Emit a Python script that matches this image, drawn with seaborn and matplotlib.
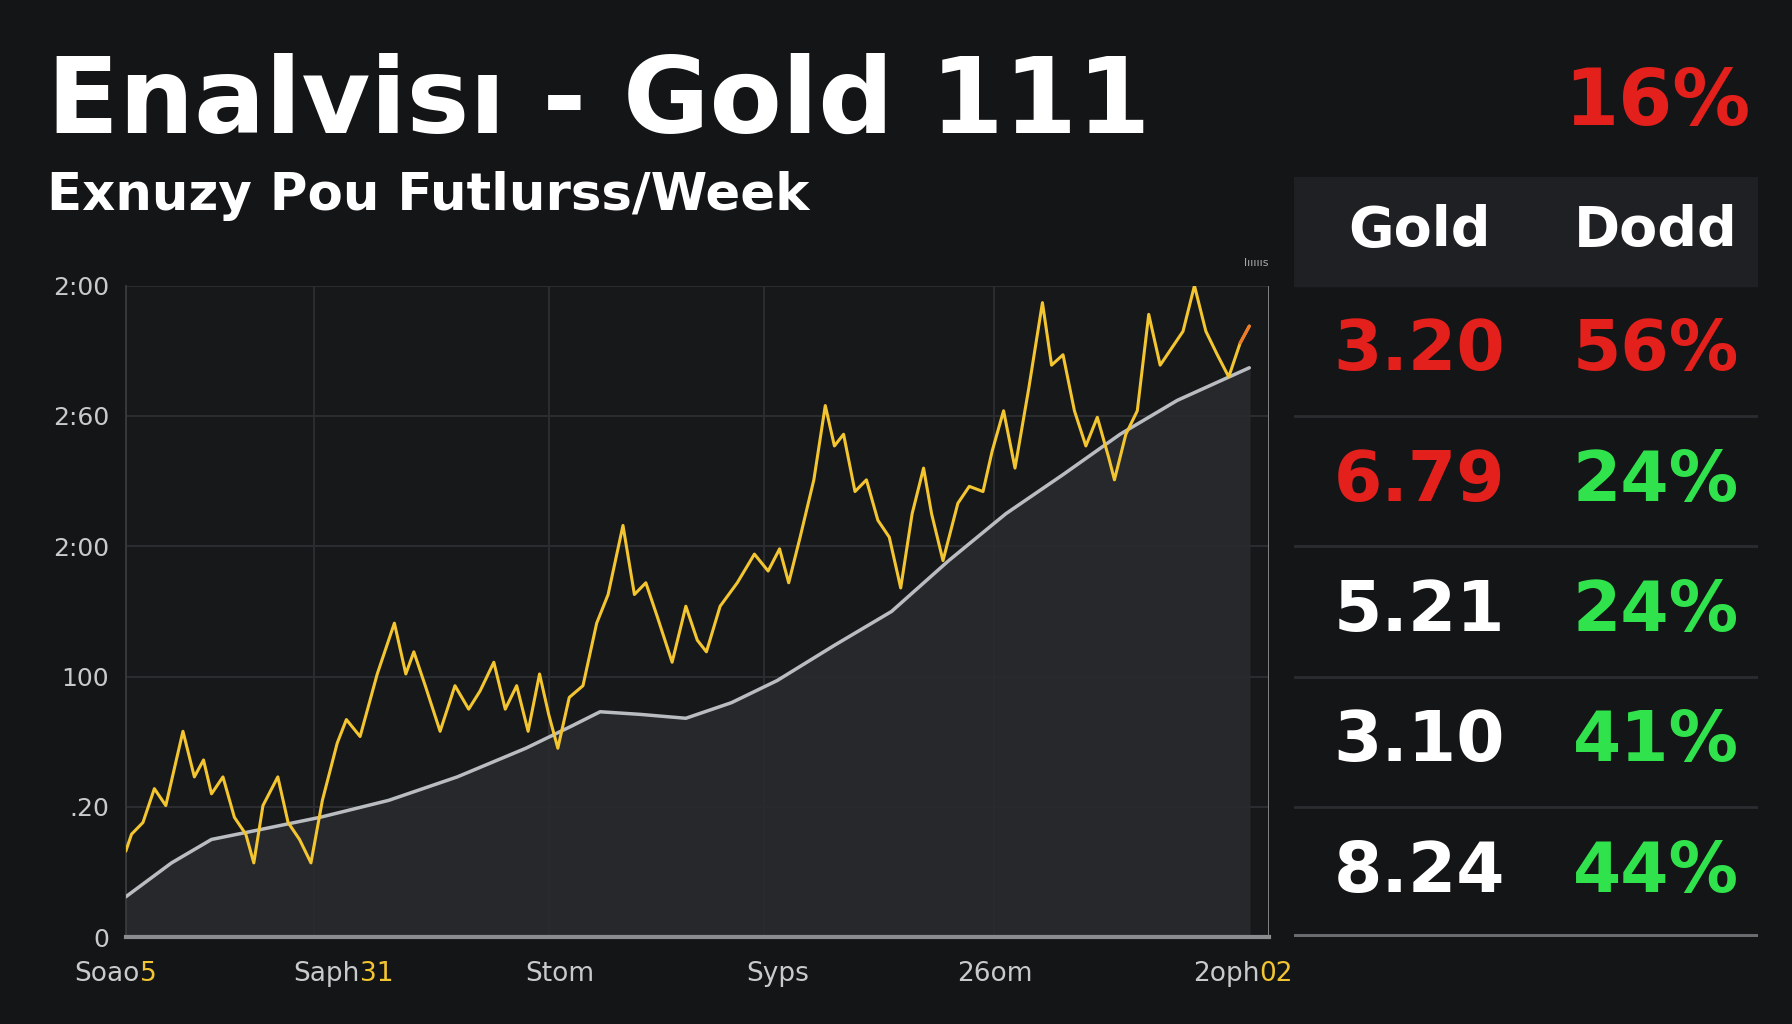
import matplotlib
matplotlib.use("Agg")
import matplotlib.pyplot as plt
import seaborn as sns
import pandas as pd

sns.set_theme(style="dark")
plt.rcParams['font.family'] = ['DejaVu Sans']

gold_x = [0,5,15,25,35,50,60,68,75,85,95,105,112,120,133,142,152,162,172,185,193,205,220,235,245,252,262,275,288,300,310,322,332,342,352,362,370,378,388,400,412,422,435,445,455,465,478,490,500,508,520,535,550,562,572,580,590,602,612,620,628,638,648,658,668,678,688,698,705,715,728,738,750,758,768,778,790,802,810,820,830,840,850,860,865,875,885,895,905,915,925,935,945,955,965,975,983]
gold_y = [0.66,0.79,0.88,1.14,1.01,1.58,1.23,1.36,1.10,1.23,0.92,0.79,0.57,1.01,1.23,0.88,0.75,0.57,1.05,1.49,1.67,1.54,2.02,2.41,2.02,2.19,1.93,1.58,1.93,1.75,1.89,2.11,1.75,1.93,1.58,2.02,1.71,1.45,1.84,1.93,2.41,2.63,3.16,2.63,2.72,2.46,2.11,2.54,2.28,2.19,2.54,2.72,2.94,2.81,2.98,2.72,3.07,3.51,4.08,3.77,3.86,3.42,3.51,3.20,3.07,2.68,3.25,3.60,3.25,2.89,3.33,3.46,3.42,3.73,4.04,3.60,4.21,4.87,4.39,4.47,4.04,3.77,3.99,3.68,3.51,3.86,4.04,4.78,4.39,4.52,4.65,5.00,4.65,4.47,4.30,4.56,4.69]
trend_x = [0,40,75,120,170,230,290,350,390,415,450,490,530,570,620,670,720,770,820,870,920,983]
trend_y = [0.31,0.57,0.75,0.83,0.92,1.05,1.23,1.45,1.62,1.73,1.71,1.68,1.80,1.97,2.24,2.50,2.89,3.25,3.55,3.86,4.12,4.37]
ytick_labels = ["0", ".20", "100", "2:00", "2:60", "2:00"]
xtick_prefix = ["Soao", "Saph", "Stom", "Syps", "26om", "2oph"]
xtick_suffix = ["5", "31", "", "", "", "02"]
xtick_pos = [12, 205, 380, 570, 760, 992]
vgrid = [0, 165, 370, 558, 760]
col_headers = ["Gold", "Dodd"]
col_gold = ["3.20", "6.79", "5.21", "3.10", "8.24"]
col_dodd = ["56%", "24%", "24%", "41%", "44%"]
gold_colors = ["red", "red", "white", "white", "white"]
dodd_colors = ["red", "green", "green", "green", "green"]

BG = "#141517"
RED = "#e3201b"
GREEN = "#30e34c"
cmap = {"red": RED, "green": GREEN, "white": "#ffffff"}

fig = plt.figure(figsize=(17.92, 10.24), dpi=100, facecolor=BG)
ax = fig.add_axes([0.0702, 0.0848, 0.6378, 0.6362])
ax.set_facecolor("#17181a")

gdf = pd.DataFrame({"x": gold_x, "y": gold_y})
tdf = pd.DataFrame({"x": trend_x, "y": trend_y})
ax.fill_between(trend_x, trend_y, 0, color="#292a2d", alpha=0.9, zorder=1)
sns.lineplot(data=tdf, x="x", y="y", ax=ax, color="#b9bcc0", lw=2.5, zorder=3)
sns.lineplot(data=gdf, x="x", y="y", ax=ax, color="#f2c531", lw=2.2, zorder=4)
ax.plot(gold_x[-2:], gold_y[-2:], color="#f07a2a", lw=2.2, zorder=5)

ax.set_xlim(0, 1000)
ax.set_ylim(0, 5)
ax.set_yticks(range(6))
ax.set_yticklabels(ytick_labels, color="#c8cacc", fontsize=18)
ax.set_xticks([])
ax.set_xlabel(""); ax.set_ylabel("")
for y in range(1, 6):
    ax.axhline(y, color="#2a2c2f", lw=1.5, zorder=0)
for x in vgrid:
    ax.axvline(x, color="#2a2c2f", lw=1.5, zorder=0)
for s in ["top", "right"]:
    ax.spines[s].set_visible(False)
ax.spines["left"].set_color("#3a3c40")
ax.spines["bottom"].set_color("#8a8c90"); ax.spines["bottom"].set_linewidth(3)
ax.axvline(1000, color="#8a8c90", lw=2)
ax.tick_params(axis="y", length=0, pad=12)
for p, pre, suf in zip(xtick_pos, xtick_prefix, xtick_suffix):
    ax.text(p, -0.18, pre, ha="right" if suf else "center", va="top", color="#c8cacc", fontsize=19, clip_on=False)
    if suf:
        ax.text(p, -0.18, suf, ha="left", va="top", color="#f2c531", fontsize=19, clip_on=False)
ax.text(1000, 5.15, "lıııııs", ha="right", fontsize=8, color="#aaaaaa")

fig.text(0.026, 0.87, "Enalvisı - Gold 111", fontsize=76, fontweight="bold", color="white")
fig.text(0.026, 0.795, "Exnuzy Pou Futlurss/Week", fontsize=37, color="white", fontweight="semibold")
fig.text(0.977, 0.878, "16%", fontsize=56, fontweight="bold", color=RED, ha="right")

tab = fig.add_axes([0.722, 0.0848, 0.259, 0.742])
tab.set_xlim(0, 1); tab.set_ylim(0, 5.83)
tab.set_facecolor("#131416")
tab.axis("off")
tab.add_patch(plt.Rectangle((0, 5), 1, 0.83, color="#1f2023"))
tab.text(0.27, 5.42, col_headers[0], ha="center", va="center", fontsize=40, fontweight="bold", color="white")
tab.text(0.78, 5.42, col_headers[1], ha="center", va="center", fontsize=40, fontweight="bold", color="white")
for i in range(5):
    yc = 4.5 - i
    tab.text(0.27, yc, col_gold[i], ha="center", va="center", fontsize=50, fontweight="bold", color=cmap[gold_colors[i]])
    tab.text(0.78, yc, col_dodd[i], ha="center", va="center", fontsize=50, fontweight="bold", color=cmap[dodd_colors[i]])
    tab.axhline(yc - 0.5, color="#2a2c2f" if i < 4 else "#6a6c70", lw=2 if i < 4 else 5)

fig.savefig("out.png", dpi=100, facecolor=BG)
